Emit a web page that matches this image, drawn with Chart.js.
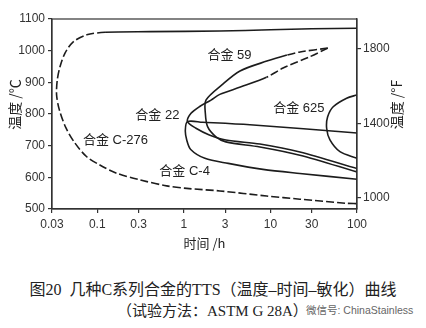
<!DOCTYPE html>
<html>
<head>
<meta charset="utf-8">
<script src="https://cdn.jsdelivr.net/npm/chart.js@4"></script>
<style>
  body { margin: 0; background: #fff; width: 426px; height: 328px; overflow: hidden; position: relative; }
  #wrap { position: absolute; left: 0; top: 0; width: 426px; height: 256px; }
  .cap { position: absolute; color: #222; font-family: "Liberation Serif", "Noto Sans CJK SC", serif; white-space: nowrap; }
  #cap1 { left: 0; width: 426px; text-align: center; top: 276px; font-size: 16px; }
  #cap2 { left: 117px; top: 299px; font-size: 15px; }
  #mark { left: 306px; top: 302px; font-size: 10.5px; color: #666; font-family: "Liberation Sans", "Noto Sans CJK SC", sans-serif; }
</style>
</head>
<body>
<div id="wrap"><canvas id="ttsChart" width="426" height="256"></canvas></div>
<div class="cap" id="cap1">图20&nbsp;&nbsp;几种C系列合金的TTS（温度–时间–敏化）曲线</div>
<div class="cap" id="cap2">（试验方法：ASTM G 28A）</div>
<div class="cap" id="mark">微信号: ChinaStainless</div>
<script>
// 刻度
const xTicks = [0.03, 0.1, 0.3, 1, 3, 10, 30, 100];
const yTicks = [500, 600, 700, 800, 900, 1000, 1100];
const fTicks = [1000, 1400, 1800];

// 合金 C-276 (上段实线, 之后虚线)
const c276Time = [100, 30, 10, 2.6, 0.41, 0.123, 0.0755, 0.0528, 0.0424, 0.0371, 0.0345, 0.0339, 0.0365, 0.0435, 0.0553, 0.0755, 0.107, 0.1675, 0.311, 0.633, 1.08, 2.61, 9.04, 21.9, 75.8, 100];
const c276Temp = [1071, 1069, 1066, 1062, 1060, 1058, 1050, 1028, 992, 949, 907, 860, 813, 756, 708, 665, 639, 613, 592, 573, 565, 557, 541, 531, 518, 517];

// 合金 59
const a59Time = [46, 22, 15.5, 9.1, 4.45, 2.75, 1.8, 1.77, 1.88, 2.35, 3.06, 7.56, 21.9, 100];
const a59Temp = [1008, 996, 986, 967, 936, 892, 844, 803, 760, 728, 712, 696, 670, 617];

// 合金 22
const a22Time = [46, 28.6, 14, 9, 4.5, 2.6, 2.06, 1.51, 1.21, 1.10, 1.38, 1.97, 3.06, 7.56, 21.9, 100];
const a22Temp = [1008, 981, 945, 916, 885, 862, 844, 823, 802, 776, 755, 734, 718, 705, 680, 628];

// 合金 C-4
const c4Time = [100, 5.8, 1.65, 1.10, 1.04, 1.08, 1.2, 1.75, 3.26, 8.2, 21.9, 100];
const c4Temp = [740, 766, 774, 776, 748, 718, 688, 660, 644, 625, 612, 594];

// 合金 625
const a625Time = [100, 75.9, 53.1, 45.8, 44.6, 48.7, 63.5, 100];
const a625Temp = [860, 850, 823, 791, 755, 718, 681, 660];

// 曲线标注
const labelText = ["合金 59", "合金 625", "合金 22", "合金 C-276", "合金 C-4"];
const labelTime = [3.36, 21.3, 0.495, 0.162, 1.02];
const labelTemp = [986, 819, 794, 716, 620];

const lineColor = "#1c1c1c";
const axisColor = "#333";

function pts(t, v) {
  return t.map((x, i) => ({ x: x, y: v[i] }));
}

function curve(label, t, v, dashTo, dashFrom) {
  return {
    label: label,
    data: pts(t, v),
    borderColor: lineColor,
    borderWidth: 1.6,
    pointRadius: 0,
    tension: 0.3,
    fill: false,
    segment: {
      borderDash: ctx => (ctx.p0DataIndex < dashTo || ctx.p0DataIndex >= dashFrom) ? [8, 3] : undefined,
    },
  };
}

const annot = {
  id: "annot",
  afterDraw(chart) {
    const { ctx, chartArea: a, scales } = chart;
    ctx.save();
    ctx.strokeStyle = axisColor;
    ctx.lineWidth = 1.2;
    ctx.strokeRect(a.left, a.top, a.right - a.left, a.bottom - a.top);

    ctx.fillStyle = "#222";
    ctx.textAlign = "center";
    ctx.textBaseline = "middle";
    ctx.font = '13px "Liberation Sans", "Noto Sans CJK SC", sans-serif';
    labelText.forEach((t, i) => {
      ctx.fillText(t, scales.x.getPixelForValue(labelTime[i]), scales.y.getPixelForValue(labelTemp[i]));
    });

    // 纵轴标题
    ctx.font = '14px "Noto Sans CJK SC", sans-serif';
    const midY = scales.y.getPixelForValue(830);
    ctx.translate(15, midY);
    ctx.rotate(-Math.PI / 2);
    ctx.fillText("温度 /℃", 0, 0);
    ctx.rotate(Math.PI / 2);
    ctx.translate(397 - 15, 0);
    ctx.rotate(-Math.PI / 2);
    ctx.fillText("温度 /°F", 0, 0);
    ctx.restore();
  },
};

const tickFont = { family: '"Liberation Sans", sans-serif', size: 12 };

new Chart(document.getElementById("ttsChart").getContext("2d"), {
  type: "line",
  data: {
    datasets: [
      curve("合金 C-276", c276Time, c276Temp, 0, 5),
      curve("合金 59", a59Time, a59Temp, 2, 99),
      curve("合金 22", a22Time, a22Temp, 3, 99),
      curve("合金 C-4", c4Time, c4Temp, 0, 99),
      curve("合金 625", a625Time, a625Temp, 0, 99),
    ],
  },
  options: {
    responsive: false,
    animation: false,
    devicePixelRatio: 1,
    layout: { padding: { top: 19, left: 0, right: 0, bottom: 0 } },
    plugins: {
      legend: { display: false },
      tooltip: { enabled: false },
    },
    scales: {
      x: {
        type: "logarithmic",
        position: "bottom",
        min: 0.03,
        max: 100,
        afterBuildTicks: s => { s.ticks = xTicks.map(v => ({ value: v })); },
        afterFit: s => { s.height = 47; },
        ticks: {
          autoSkip: false,
          maxRotation: 0,
          padding: 4,
          color: axisColor,
          font: tickFont,
          callback: v => String(v),
        },
        grid: { drawOnChartArea: false, tickLength: 4, color: axisColor, lineWidth: 1.2 },
        border: { color: axisColor, width: 1.2 },
        title: {
          display: true,
          text: "时间 /h",
          color: "#222",
          font: { family: '"Noto Sans CJK SC", sans-serif', size: 13 },
          padding: { top: 0, bottom: 5 },
        },
      },
      y: {
        position: "left",
        min: 500,
        max: 1100,
        afterBuildTicks: s => { s.ticks = yTicks.map(v => ({ value: v })); },
        afterFit: s => { s.width = 52; },
        ticks: { padding: 3, color: axisColor, font: tickFont, callback: v => String(v) },
        grid: { drawOnChartArea: false, tickLength: 4, color: axisColor, lineWidth: 1.2 },
        border: { color: axisColor, width: 1.2 },
      },
      y2: {
        position: "right",
        min: 940,
        max: 1960,
        afterBuildTicks: s => { s.ticks = fTicks.map(v => ({ value: v })); },
        afterFit: s => { s.width = 69; },
        ticks: { padding: 2, color: axisColor, font: tickFont, callback: v => String(v) },
        grid: { drawOnChartArea: false, tickLength: 4, color: axisColor, lineWidth: 1.2 },
        border: { color: axisColor, width: 1.2 },
      },
    },
  },
  plugins: [annot],
});
</script>
</body>
</html>
